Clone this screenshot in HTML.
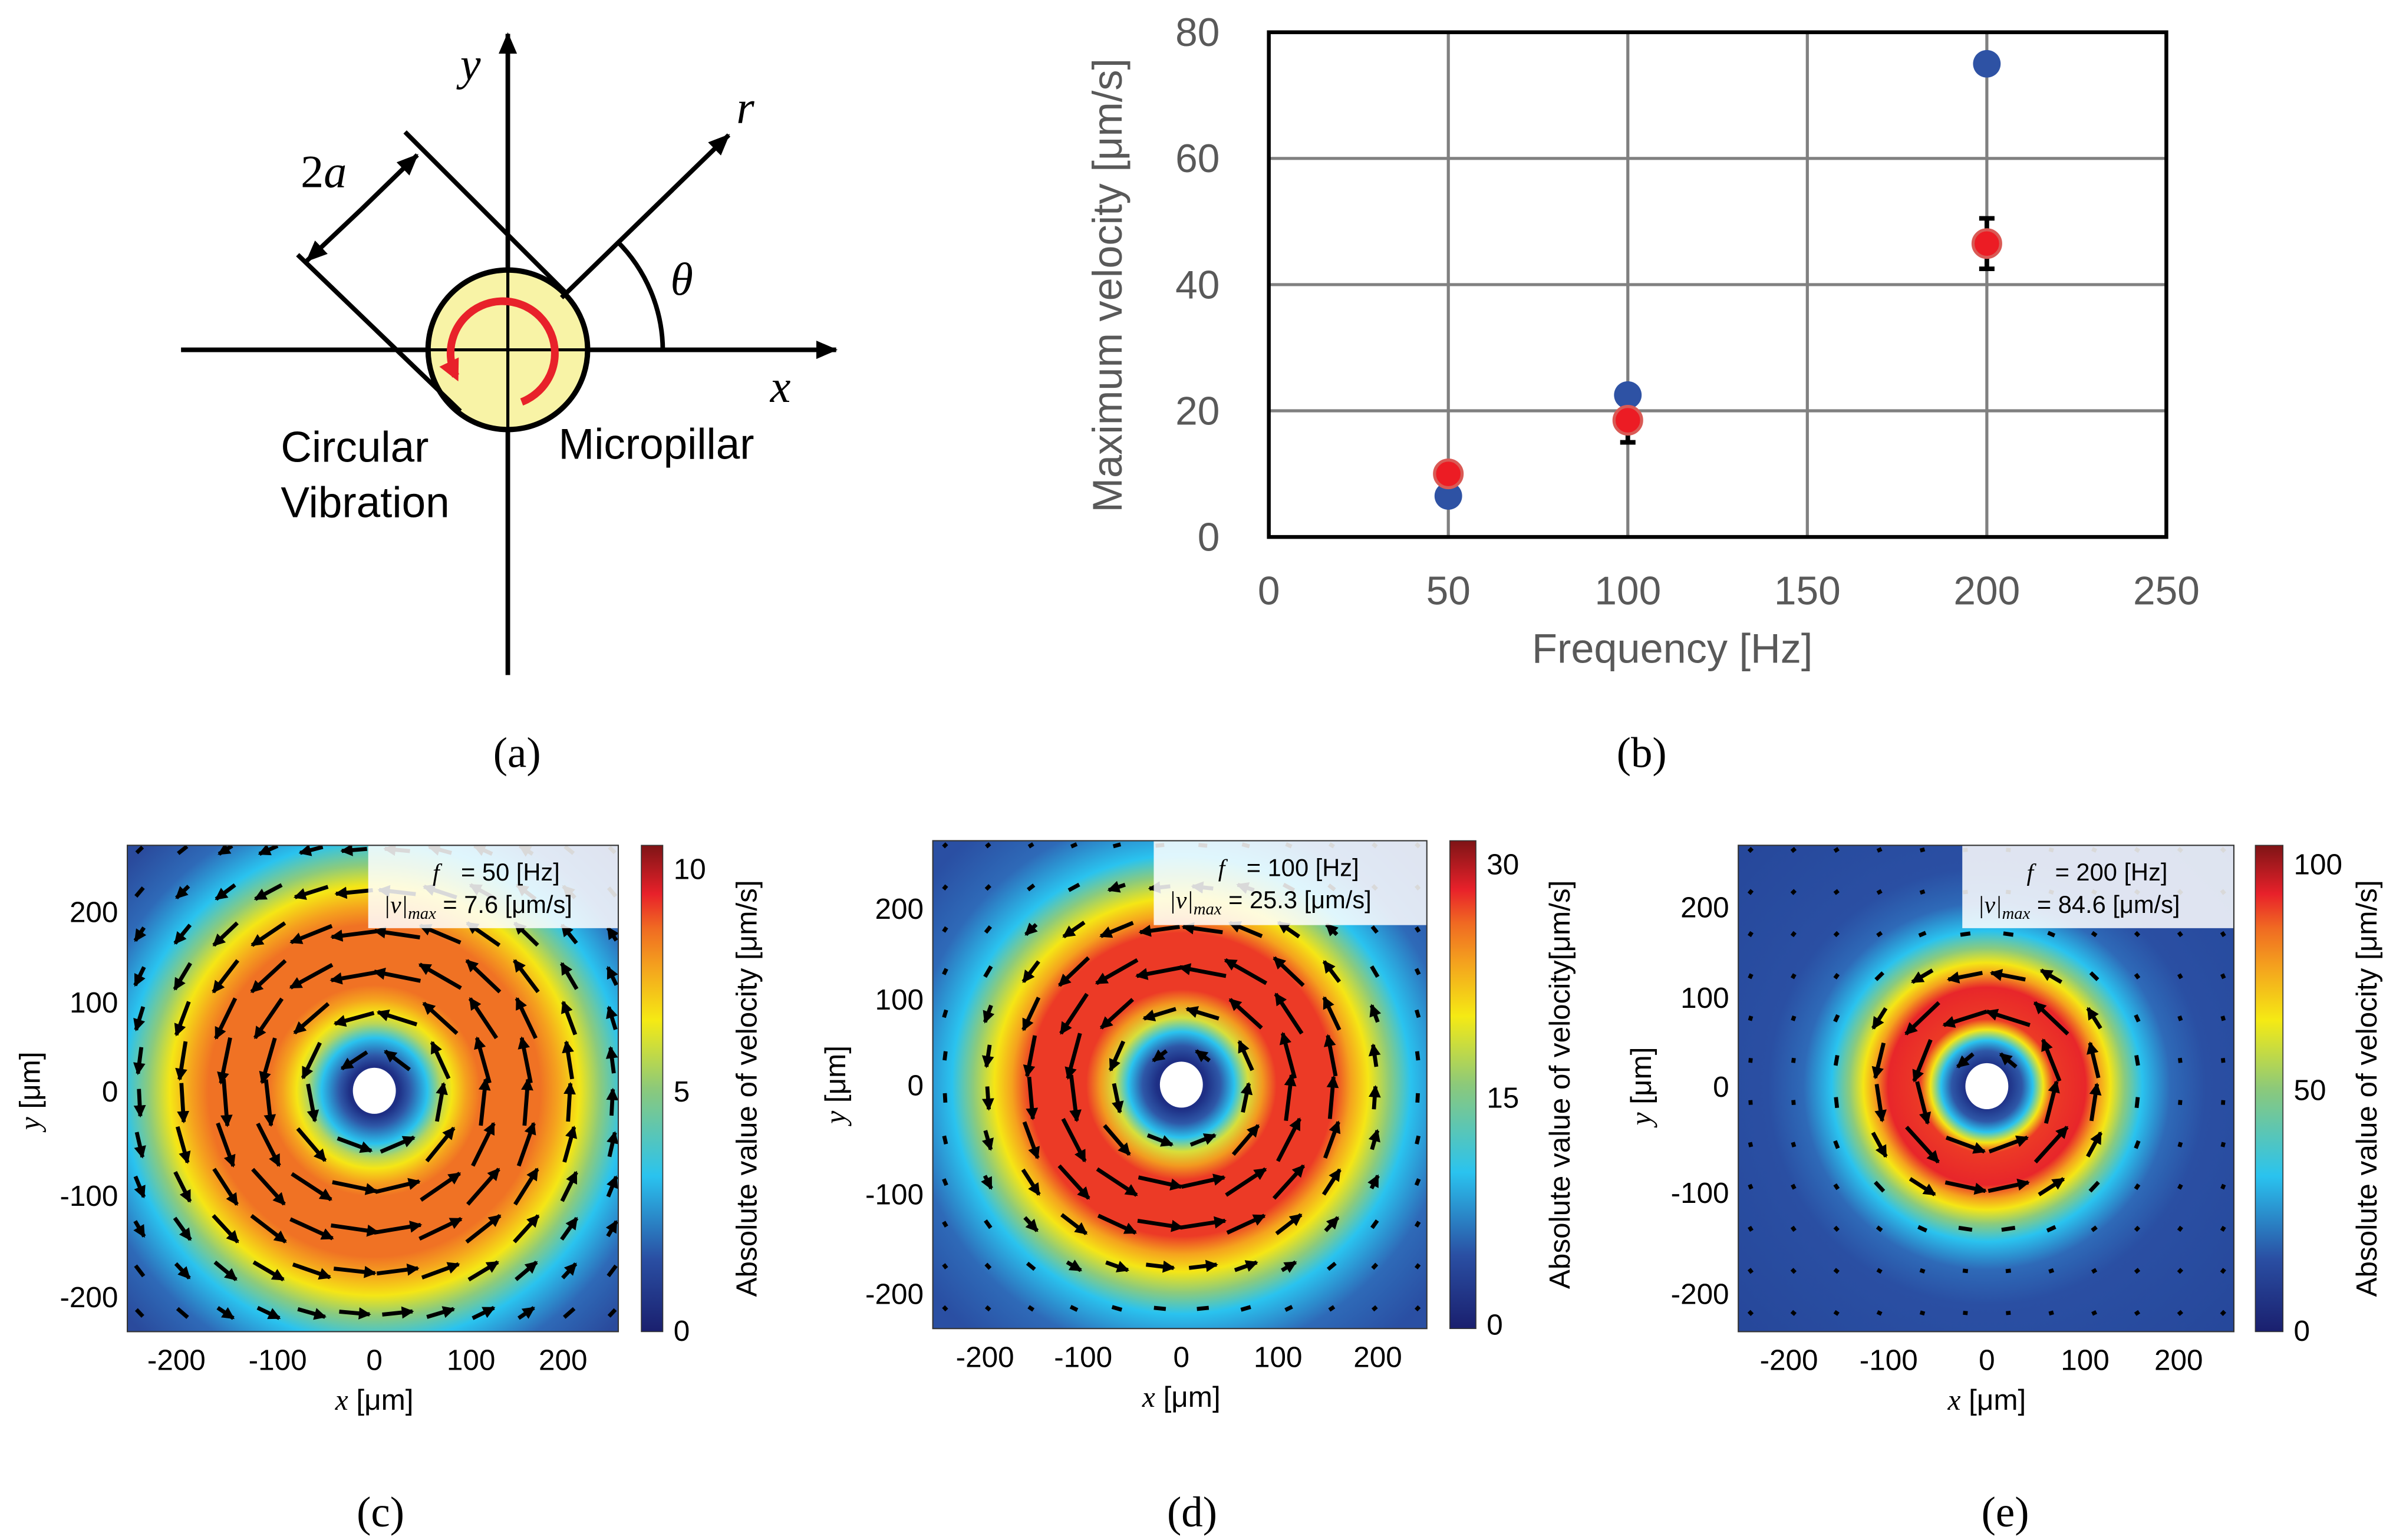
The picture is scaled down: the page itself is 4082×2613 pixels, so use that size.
<!DOCTYPE html>
<html><head><meta charset="utf-8"><style>
html,body{margin:0;padding:0;background:#fff}
svg{display:block}
</style></head><body>
<svg id="fig" xmlns="http://www.w3.org/2000/svg" width="4082" height="2613" viewBox="0 0 1568.2 1003.8" style="font-family:'Liberation Sans',sans-serif">
<defs>
<marker id="ah" markerWidth="8" markerHeight="8" refX="7" refY="4" orient="auto" markerUnits="userSpaceOnUse"><path d="M0,0 L8,4 L0,8 z" fill="#000"/></marker>
<marker id="ahb" markerWidth="14" markerHeight="14" refX="13" refY="7" orient="auto" markerUnits="userSpaceOnUse"><path d="M0,1 L14,7 L0,13 z" fill="#000"/></marker>
<marker id="ahr" markerWidth="14" markerHeight="14" refX="10" refY="7" orient="auto" markerUnits="userSpaceOnUse"><path d="M0,0 L14,7 L0,14 z" fill="#e8212a"/></marker>
<linearGradient id="jet" x1="0" y1="1" x2="0" y2="0">
<stop offset="0" stop-color="#1a1f6e"/><stop offset="0.15" stop-color="#2a4fa3"/><stop offset="0.32" stop-color="#2ac3ef"/><stop offset="0.5" stop-color="#8cc97a"/><stop offset="0.64" stop-color="#f5ea14"/><stop offset="0.75" stop-color="#f4a21e"/><stop offset="0.83" stop-color="#f06a22"/><stop offset="0.9" stop-color="#e8212a"/><stop offset="1" stop-color="#7e1416"/>
</linearGradient>
<radialGradient id="gc" gradientUnits="userSpaceOnUse" cx="244" cy="711" r="230">
<stop offset="0.07" stop-color="#1e2f85"/><stop offset="0.1" stop-color="#2e58a8"/><stop offset="0.15" stop-color="#2ac3ef"/><stop offset="0.19" stop-color="#b8d65a"/><stop offset="0.22" stop-color="#f5e615"/><stop offset="0.26" stop-color="#f5a21e"/><stop offset="0.3" stop-color="#f07224"/><stop offset="0.47" stop-color="#f07224"/><stop offset="0.52" stop-color="#f5a21e"/><stop offset="0.58" stop-color="#f5e615"/><stop offset="0.64" stop-color="#8ccb7c"/><stop offset="0.71" stop-color="#2ac3ef"/><stop offset="0.82" stop-color="#2e6ab8"/><stop offset="0.95" stop-color="#2a4a9c"/>
</radialGradient>
<radialGradient id="gd" gradientUnits="userSpaceOnUse" cx="770" cy="707" r="230">
<stop offset="0.07" stop-color="#1e2f85"/><stop offset="0.11" stop-color="#2e58a8"/><stop offset="0.15" stop-color="#2ac3ef"/><stop offset="0.19" stop-color="#d8df3a"/><stop offset="0.23" stop-color="#f29a20"/><stop offset="0.27" stop-color="#ec3a26"/><stop offset="0.43" stop-color="#ec3a26"/><stop offset="0.48" stop-color="#f5a21e"/><stop offset="0.53" stop-color="#f5e615"/><stop offset="0.59" stop-color="#8ccb7c"/><stop offset="0.65" stop-color="#2ac3ef"/><stop offset="0.77" stop-color="#2e6ab8"/><stop offset="0.92" stop-color="#2a4fa3"/>
</radialGradient>
<radialGradient id="ge" gradientUnits="userSpaceOnUse" cx="1295" cy="708" r="230">
<stop offset="0.06" stop-color="#1e2f85"/><stop offset="0.1" stop-color="#2e58a8"/><stop offset="0.13" stop-color="#2ac3ef"/><stop offset="0.16" stop-color="#f5e615"/><stop offset="0.19" stop-color="#ec3a26"/><stop offset="0.28" stop-color="#e8262a"/><stop offset="0.32" stop-color="#f5a21e"/><stop offset="0.35" stop-color="#f5e615"/><stop offset="0.39" stop-color="#8ccb7c"/><stop offset="0.44" stop-color="#2ac3ef"/><stop offset="0.52" stop-color="#2e6ab8"/><stop offset="0.62" stop-color="#2a4fa3"/><stop offset="1" stop-color="#26479a"/>
</radialGradient>
<clipPath id="cc"><rect x="83" y="551" width="320" height="317"/></clipPath>
<clipPath id="cd"><rect x="608" y="548" width="322" height="318"/></clipPath>
<clipPath id="ce"><rect x="1133" y="551" width="323" height="317"/></clipPath>
</defs>

<!-- Panel a -->
<g>
<line x1="331" y1="440" x2="331" y2="22" stroke="#000" stroke-width="3" marker-end="url(#ahb)"/>
<line x1="118" y1="228" x2="545" y2="228" stroke="#000" stroke-width="3" marker-end="url(#ahb)"/>
<circle cx="331" cy="228" r="52" fill="#f8f3a6" stroke="#000" stroke-width="3.5"/>
<line x1="331" y1="176" x2="331" y2="280" stroke="#000" stroke-width="2"/>
<line x1="279" y1="228" x2="383" y2="228" stroke="#000" stroke-width="2"/>
<path d="M 340 262 A 34 34 0 1 0 297 245" fill="none" stroke="#e8212a" stroke-width="5" marker-end="url(#ahr)"/>
<line x1="366" y1="194" x2="475" y2="88" stroke="#000" stroke-width="3" marker-end="url(#ahb)"/>
<path d="M 432 228 A 101 101 0 0 0 402 157" fill="none" stroke="#000" stroke-width="3"/>
<line x1="264" y1="86" x2="368" y2="190" stroke="#000" stroke-width="3"/>
<line x1="194" y1="166" x2="300" y2="268" stroke="#000" stroke-width="3"/>
<line x1="236" y1="136" x2="272" y2="101" stroke="#000" stroke-width="3" marker-end="url(#ahb)"/>
<line x1="236" y1="136" x2="200" y2="170" stroke="#000" stroke-width="3" marker-end="url(#ahb)"/>
<g style="font-family:'Liberation Serif',serif" font-style="italic" font-size="30">
<text x="300" y="52">y</text>
<text x="480" y="80">r</text>
<text x="437" y="192">θ</text>
<text x="502" y="262">x</text>
<text x="196" y="122"><tspan font-style="normal">2</tspan>a</text>
</g>
<text x="183" y="301" font-size="28">Circular</text>
<text x="183" y="337" font-size="28">Vibration</text>
<text x="364" y="299" font-size="28">Micropillar</text>
</g>
<g style="font-family:'Liberation Serif',serif" font-size="28" text-anchor="middle">
<text x="337" y="500">(a)</text>
<text x="1070" y="500">(b)</text>
<text x="248" y="995">(c)</text>
<text x="777" y="995">(d)</text>
<text x="1307" y="995">(e)</text>
</g>

<!-- Panel b -->
<g id="pb"></g>

<!-- Heatmaps -->
<g id="hm"></g>
</svg>
<script>
// Panel b data
const freqs = [50, 100, 200];
const simVel = [6.5, 22.5, 75];
const expVel = [10, 18.5, 46.5];
const expErrLow = [9.3, 15, 42.5];
const expErrHigh = [10.8, 19.5, 50.5];
const xTicks = [0, 50, 100, 150, 200, 250];
const yTicks = [0, 20, 40, 60, 80];

const NS = 'http://www.w3.org/2000/svg';
function mk(tag, attrs, parent, txt) {
  const e = document.createElementNS(NS, tag);
  for (const k in attrs) e.setAttribute(k, attrs[k]);
  if (txt !== undefined) e.textContent = txt;
  parent.appendChild(e);
  return e;
}
const pb = document.getElementById('pb');
const X0 = 827, X1 = 1412, Y0 = 350, Y1 = 21;
const sx = v => X0 + (v - 0) / 250 * (X1 - X0);
const sy = v => Y0 - v / 80 * (Y0 - Y1);
xTicks.forEach(t => {
  if (t > 0 && t < 250) {
    const l = mk('line', {x1: sx(t), x2: sx(t), y1: Y1, y2: Y0, stroke: '#808080', 'stroke-width': 2}, pb);
    
    
  }
  const tx = mk('text', {x: sx(t), y: 394, 'font-size': 26, fill: '#595959', 'text-anchor': 'middle'}, pb, t);
  
  
});
yTicks.forEach(t => {
  if (t > 0 && t < 80) {
    const l = mk('line', {x1: X0, x2: X1, y1: sy(t), y2: sy(t), stroke: '#808080', 'stroke-width': 2}, pb);
    
    
  }
  const tx = mk('text', {x: 795, y: sy(t) + 9, 'font-size': 26, fill: '#595959', 'text-anchor': 'end'}, pb, t);
  
  
});
const box = mk('rect', {x: X0, y: Y1, width: X1 - X0, height: Y0 - Y1, fill: 'none', stroke: '#000', 'stroke-width': 2.5}, pb);


const xt = mk('text', {x: 1090, y: 432, 'font-size': 27, fill: '#595959', 'text-anchor': 'middle'}, pb, 'Frequency [Hz]');


const yt = mk('text', {x: 0, y: 0, 'font-size': 27, fill: '#595959', 'text-anchor': 'middle', transform: 'translate(731,186) rotate(-90)'}, pb, 'Maximum velocity [μm/s]');


freqs.forEach((f, i) => {
  const b = mk('circle', {cx: sx(f), cy: sy(simVel[i]), r: 9, fill: '#2e52a4'}, pb);
  
  
  const e = mk('path', {d: `M${sx(f)},${sy(expErrLow[i])}V${sy(expErrHigh[i])}M${sx(f)-5},${sy(expErrLow[i])}h10M${sx(f)-5},${sy(expErrHigh[i])}h10`, stroke: '#000', 'stroke-width': 3, fill: 'none'}, pb);
  
  
  const r = mk('circle', {cx: sx(f), cy: sy(expVel[i]), r: 9, fill: '#ec1c24', stroke: '#d95a55', 'stroke-width': 2}, pb);
  
  
});

// Heatmap panels
const hm = document.getElementById('hm');
const panels = [
  {id: 'c', x: 83, y: 551, w: 320, h: 317, cx: 244, cy: 711, grad: 'gc', clip: 'cc', cb: 418, cbw: 14, rp: 85, rw: 85, f: '50', v: '7.6',
   yt: [[200,594],[100,653],[0,711],[-100,779],[-200,845]], xt: [[-200,115],[-100,181],[0,244],[100,307],[200,367]],
   cbt: [['10',566],['5',711],['0',867]], cbTitle: 'Absolute value of velocity [μm/s]', tb: [240, 403, 605]},
  {id: 'd', x: 608, y: 548, w: 322, h: 318, cx: 770, cy: 707, grad: 'gd', clip: 'cd', cb: 945, cbw: 17, rp: 80, rw: 50, f: '100', v: '25.3',
   yt: [[200,592],[100,651],[0,707],[-100,778],[-200,843]], xt: [[-200,642],[-100,706],[0,770],[100,833],[200,898]],
   cbt: [['30',563],['15',715],['0',863]], cbTitle: 'Absolute value of velocity[μm/s]', tb: [752, 930, 603]},
  {id: 'e', x: 1133, y: 551, w: 323, h: 317, cx: 1295, cy: 708, grad: 'ge', clip: 'ce', cb: 1470, cbw: 18, rp: 54, rw: 32, f: '200', v: '84.6',
   yt: [[200,591],[100,650],[0,708],[-100,777],[-200,843]], xt: [[-200,1166],[-100,1231],[0,1295],[100,1359],[200,1420]],
   cbt: [['100',563],['50',710],['0',867]], cbTitle: 'Absolute value of velocity [μm/s]', tb: [1279, 1456, 605]}
];
panels.forEach(p => {
  const g = mk('g', {'clip-path': `url(#${p.clip})`}, hm);
  
  
  mk('rect', {x: p.x, y: p.y, width: p.w, height: p.h, fill: `url(#${p.grad})`}, g);
  const hole = mk('ellipse', {cx: p.cx, cy: p.cy, rx: 14, ry: 15, fill: '#fff'}, g);
  
  
  const step = 28;
  for (let gx = p.x + 8; gx < p.x + p.w + 3; gx += step) {
    for (let gy = p.y + 3; gy < p.y + p.h + 5; gy += step * 0.98) {
      const dx = gx - p.cx, dy = gy - p.cy;
      const r = Math.hypot(dx, dy);
      if (r < 18) continue;
      const m = Math.exp(-Math.pow((r - p.rp) / p.rw, 2));
      const L = 3 + 28 * m;
      const vx = dy / r, vy = -dx / r; // counterclockwise on screen
      const x1 = gx - vx * L / 2, y1 = gy - vy * L / 2, x2 = gx + vx * L / 2, y2 = gy + vy * L / 2;
      const a = mk('line', {x1, y1, x2, y2, stroke: '#000', 'stroke-width': 2.6, 'marker-end': L > 9 ? 'url(#ah)' : ''}, g);
      
      
    }
  }
  const tb = mk('rect', {x: p.tb[0], y: p.y, width: p.tb[1] - p.tb[0], height: p.tb[2] - p.y, fill: '#fff', 'fill-opacity': 0.85}, g);
  
  
  const t1 = mk('text', {x: p.tb[0] + 42, y: p.y + 23, 'font-size': 16}, hm);
  
  
  t1.innerHTML = `<tspan style="font-family:'Liberation Serif',serif" font-style="italic">f</tspan><tspan dx="14">= ${p.f} [Hz]</tspan>`;
  const t2 = mk('text', {x: p.tb[0] + 10, y: p.y + 44, 'font-size': 16}, hm);
  
  
  t2.innerHTML = `<tspan style="font-family:'Liberation Serif',serif" font-style="italic">|v|</tspan><tspan style="font-family:'Liberation Serif',serif" font-style="italic" font-size="11" dy="4">max</tspan><tspan dy="-4"> = ${p.v} [μm/s]</tspan>`;
  const fr = mk('rect', {x: p.x, y: p.y, width: p.w, height: p.h, fill: 'none', stroke: '#333', 'stroke-width': 0.8}, hm);
  
  
  p.yt.forEach(([v, y]) => {
    const t = mk('text', {x: p.x - 6, y: y + 7, 'font-size': 19, 'text-anchor': 'end'}, hm, v);
    
    
  });
  p.xt.forEach(([v, x]) => {
    const t = mk('text', {x: x, y: p.y + p.h + 25, 'font-size': 19, 'text-anchor': 'middle'}, hm, v);
    
    
  });
  const xl = mk('text', {x: p.cx, y: p.y + p.h + 51, 'font-size': 19, 'text-anchor': 'middle'}, hm);
  
  
  xl.innerHTML = `<tspan style="font-family:'Liberation Serif',serif" font-style="italic">x</tspan> [μm]`;
  const yl = mk('text', {x: 0, y: 0, 'font-size': 19, 'text-anchor': 'middle', transform: `translate(${p.x - 57},${p.cy}) rotate(-90)`}, hm);
  
  
  yl.innerHTML = `<tspan style="font-family:'Liberation Serif',serif" font-style="italic">y</tspan> [μm]`;
  const cb = mk('rect', {x: p.cb, y: p.y, width: p.cbw, height: p.h, fill: 'url(#jet)', stroke: '#333', 'stroke-width': 0.6}, hm);
  
  
  p.cbt.forEach(([v, y]) => {
    const t = mk('text', {x: p.cb + p.cbw + 7, y: y + 7, 'font-size': 19}, hm, v);
    
    
  });
  const ct = mk('text', {x: 0, y: 0, 'font-size': 19, 'text-anchor': 'middle', transform: `translate(${p.cb + p.cbw + 61},${p.y + p.h / 2}) rotate(-90)`}, hm, p.cbTitle);
  
  
});
</script>
</body></html>
